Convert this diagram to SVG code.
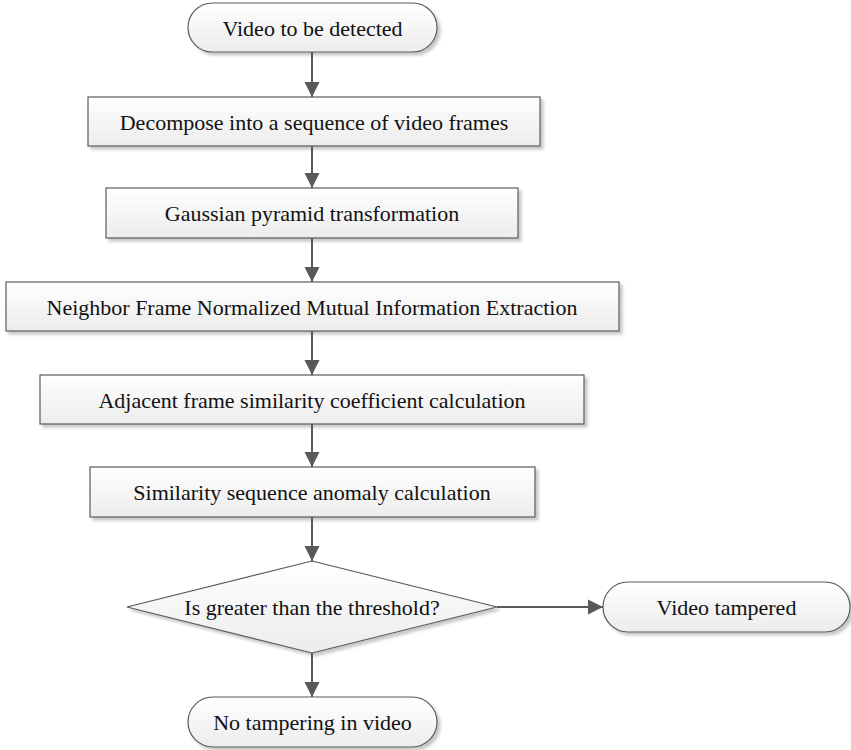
<svg xmlns="http://www.w3.org/2000/svg" width="851" height="750" viewBox="0 0 851 750">
  <style>
    .shape { fill: url(#g); stroke: #5a5a5a; stroke-width: 1.2; filter: url(#sh); }
    .lbl { font-family: "Liberation Serif", "Times New Roman", serif; font-size: 22px; fill: #111; text-anchor: middle; }
    .con { stroke: #595959; stroke-width: 2; fill: none; marker-end: url(#ah); }
  </style>
  <defs>
    <linearGradient id="g" x1="0" y1="0" x2="0" y2="1">
      <stop offset="0" stop-color="#ffffff"/>
      <stop offset="1" stop-color="#ececec"/>
    </linearGradient>
    <filter id="sh" x="-5%" y="-10%" width="115%" height="130%">
      <feDropShadow dx="3" dy="3" stdDeviation="1.5" flood-color="#000" flood-opacity="0.22"/>
    </filter>
    <marker id="ah" markerUnits="userSpaceOnUse" markerWidth="16" markerHeight="16" viewBox="0 0 16 16" refX="15" refY="8" orient="auto">
      <path d="M0,0.5 L15,8 L0,15.5 Z" fill="#595959"/>
    </marker>
  </defs>
  <rect width="851" height="750" fill="#ffffff"/>

  <g id="start">
    <rect class="shape" x="188" y="3" width="249" height="49" rx="24.5" ry="24.5"/>
    <text class="lbl" x="312.5" y="35.5">Video to be detected</text>
  </g>
  <g id="decompose">
    <rect class="shape" x="88" y="97" width="452" height="49"/>
    <text class="lbl" x="314" y="129.5">Decompose into a sequence of video frames</text>
  </g>
  <g id="gaussian">
    <rect class="shape" x="106" y="188" width="412" height="50"/>
    <text class="lbl" x="312" y="221">Gaussian pyramid transformation</text>
  </g>
  <g id="nmi">
    <rect class="shape" x="6" y="282" width="613" height="49"/>
    <text class="lbl" x="312" y="314.5">Neighbor Frame Normalized Mutual Information Extraction</text>
  </g>
  <g id="adjacent">
    <rect class="shape" x="40" y="375" width="544" height="49"/>
    <text class="lbl" x="312" y="407.5">Adjacent frame similarity coefficient calculation</text>
  </g>
  <g id="similarity">
    <rect class="shape" x="90" y="467" width="445" height="50"/>
    <text class="lbl" x="312" y="500">Similarity sequence anomaly calculation</text>
  </g>
  <g id="decision">
    <polygon class="shape" points="312,561 497,607 312,653 127,607"/>
    <text class="lbl" x="312" y="614.5">Is greater than the threshold?</text>
  </g>
  <g id="tampered">
    <rect class="shape" x="603" y="582" width="247" height="50" rx="25" ry="25"/>
    <text class="lbl" x="726.5" y="615">Video tampered</text>
  </g>
  <g id="notampering">
    <rect class="shape" x="188" y="697" width="249" height="50" rx="25" ry="25"/>
    <text class="lbl" x="312.5" y="730">No tampering in video</text>
  </g>

  <g id="connectors">
    <path class="con" d="M312,52 L312,97"/>
    <path class="con" d="M312,146 L312,188"/>
    <path class="con" d="M312,238 L312,282"/>
    <path class="con" d="M312,331 L312,375"/>
    <path class="con" d="M312,424 L312,467"/>
    <path class="con" d="M312,517 L312,561"/>
    <path class="con" d="M312,653 L312,697"/>
    <path class="con" d="M497,607 L603,607"/>
  </g>
</svg>
